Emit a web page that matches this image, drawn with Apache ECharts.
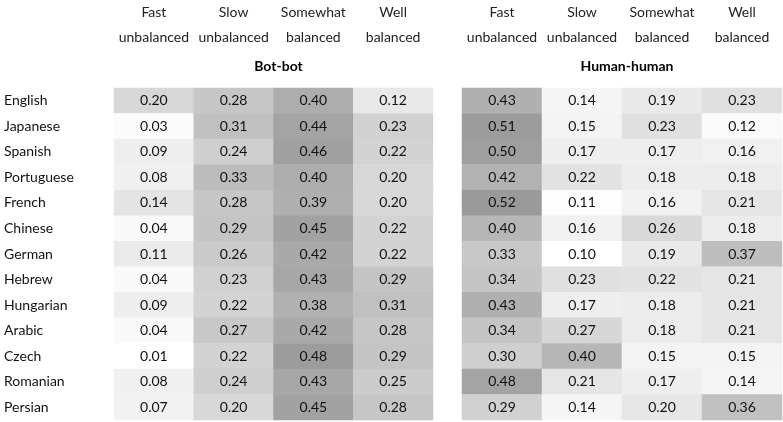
<!DOCTYPE html>
<html>
<head>
<meta charset="utf-8">
<script src="https://cdn.jsdelivr.net/npm/echarts@6/dist/echarts.min.js"></script>
<style>html,body{margin:0;padding:0;background:#fff;}#c{width:783px;height:422px;}</style>
</head>
<body>
<div id="c"></div>
<script>
const languages = ['English','Japanese','Spanish','Portuguese','French','Chinese','German','Hebrew','Hungarian','Arabic','Czech','Romanian','Persian'];
const columns = ['Fast\nunbalanced','Slow\nunbalanced','Somewhat\nbalanced','Well\nbalanced'];
const panelTitles = ['Bot-bot','Human-human'];

const botFast     = [0.20,0.03,0.09,0.08,0.14,0.04,0.11,0.04,0.09,0.04,0.01,0.08,0.07];
const botSlow     = [0.28,0.31,0.24,0.33,0.28,0.29,0.26,0.23,0.22,0.27,0.22,0.24,0.20];
const botSomewhat = [0.40,0.44,0.46,0.40,0.39,0.45,0.42,0.43,0.38,0.42,0.48,0.43,0.45];
const botWell     = [0.12,0.23,0.22,0.20,0.20,0.22,0.22,0.29,0.31,0.28,0.29,0.25,0.28];

const humanFast     = [0.43,0.51,0.50,0.42,0.52,0.40,0.33,0.34,0.43,0.34,0.30,0.48,0.29];
const humanSlow     = [0.14,0.15,0.17,0.22,0.11,0.16,0.10,0.23,0.17,0.27,0.40,0.21,0.14];
const humanSomewhat = [0.19,0.23,0.17,0.18,0.16,0.26,0.19,0.22,0.18,0.18,0.15,0.17,0.20];
const humanWell     = [0.23,0.12,0.16,0.18,0.21,0.18,0.37,0.21,0.21,0.21,0.15,0.14,0.36];

function build(cols) {
  const out = [];
  cols.forEach((arr, ci) => arr.forEach((v, ri) => out.push([ci, ri, v])));
  return out;
}
const botData = build([botFast, botSlow, botSomewhat, botWell]);
const humanData = build([humanFast, humanSlow, humanSomewhat, humanWell]);
const vals = d => d.map(p => p[2]);

const FONT = 'Lato';
const grids = [
  {left: 114, top: 84, width: 319, height: 336},
  {left: 462, top: 84, width: 320, height: 336}
];

function xAxis(i) {
  return {
    type: 'category', gridIndex: i, data: columns, position: 'top',
    axisLine: {show: false}, axisTick: {show: false}, splitLine: {show: false},
    axisLabel: {color: '#222', fontFamily: FONT, fontSize: 14, lineHeight: 25, margin: 38, interval: 0}
  };
}
function yAxis(i) {
  return {
    type: 'category', gridIndex: i, data: languages, inverse: true,
    axisLine: {show: false}, axisTick: {show: false}, splitLine: {show: false},
    axisLabel: {show: i === 0, align: 'left', margin: 110, color: '#111', fontFamily: FONT, fontSize: 14}
  };
}
function series(i, data) {
  return {
    type: 'heatmap', xAxisIndex: i, yAxisIndex: i, data: data,
    label: {show: true, color: '#111', fontFamily: FONT, fontSize: 14, formatter: p => p.value[2].toFixed(2)},
    emphasis: {disabled: true},
    itemStyle: {borderWidth: 0}
  };
}

const chart = echarts.init(document.getElementById('c'));
chart.setOption({
  animation: false,
  backgroundColor: '#fff',
  title: [
    {text: panelTitles[0], left: 273.5, top: 54, textAlign: 'center', textStyle: {fontFamily: FONT, fontSize: 14, fontWeight: 'bold', color: '#000'}},
    {text: panelTitles[1], left: 622, top: 54, textAlign: 'center', textStyle: {fontFamily: FONT, fontSize: 14, fontWeight: 'bold', color: '#000'}}
  ],
  grid: grids,
  xAxis: [xAxis(0), xAxis(1)],
  yAxis: [yAxis(0), yAxis(1)],
  visualMap: [
    {show: false, seriesIndex: 0, dimension: 2, min: Math.min(...vals(botData)), max: Math.max(...vals(botData)), inRange: {color: ['#ffffff', '#9c9c9c']}},
    {show: false, seriesIndex: 1, dimension: 2, min: Math.min(...vals(humanData)), max: Math.max(...vals(humanData)), inRange: {color: ['#ffffff', '#9a9a9a']}}
  ],
  series: [series(0, botData), series(1, humanData)]
});
</script>
</body>
</html>
